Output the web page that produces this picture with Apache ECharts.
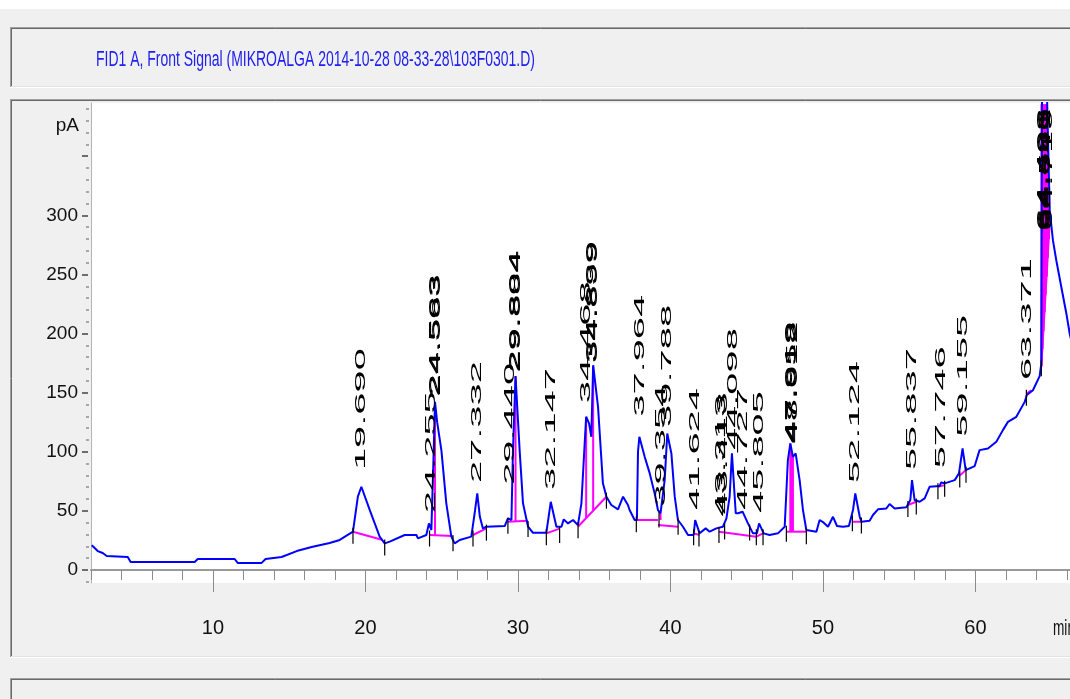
<!DOCTYPE html>
<html>
<head>
<meta charset="utf-8">
<script src="https://cdn.jsdelivr.net/npm/echarts@6/dist/echarts.min.js"></script>
<style>
html,body{margin:0;padding:0;background:#f0f0f0;}
#chart{width:1070px;height:699px;}
</style>
</head>
<body>
<div id="chart"></div>
<script>
// ---------- data ----------
const chartTitle = 'FID1 A, Front Signal (MIKROALGA 2014-10-28 08-33-28\\103F0301.D)';
const yUnit = 'pA';
const xUnit = 'min';

const signalTime = [2.05,2.24,2.44,2.77,3.03,4.41,4.60,8.80,9.00,11.42,11.62,13.19,13.45,14.50,15.49,16.47,17.65,18.31,
  19.18,19.50,19.73,19.85,20.30,20.93,21.26,21.59,22.57,23.34,23.44,23.99,24.16,24.32,24.45,24.56,24.70,24.98,25.30,25.63,25.85,26.18,26.94,
  27.05,27.18,27.33,27.50,27.70,27.93,29.13,29.34,29.44,29.57,29.67,29.84,30.11,30.33,30.66,30.98,31.86,32.15,32.52,32.85,33.00,33.28,33.61,33.93,
  34.16,34.47,34.66,34.81,34.93,35.25,35.57,35.80,36.12,36.56,36.89,37.21,37.32,37.65,37.80,37.87,37.96,38.31,38.64,38.96,39.18,39.35,39.62,39.79,
  40.06,40.28,40.49,40.82,41.15,41.52,41.62,41.91,42.31,42.57,43.01,43.44,43.67,43.88,44.03,44.10,44.28,44.43,44.73,45.08,45.41,45.67,45.81,46.11,
  46.50,47.05,47.49,47.70,47.86,48.03,48.21,48.47,48.69,48.91,49.57,49.78,50.05,50.33,50.66,50.92,51.31,51.70,51.97,52.12,52.41,52.52,53.06,53.28,
  53.61,54.16,54.37,54.70,55.47,55.73,55.84,56.01,56.34,56.67,56.99,57.65,57.75,57.98,58.64,58.92,59.155,59.36,59.95,60.27,60.82,61.37,61.80,62.13,
  62.68,63.23,63.37,63.77,64.21,64.32,64.37,64.64,64.75,64.87,65.08,65.30,65.63,65.96,66.18,66.30];
const signalPA = [21,18.6,16,14.4,11.8,11,6.8,6.8,9.3,9.3,6,6,9.3,11,16,19.4,22.8,25.4,
  32.4,62,70.4,70,50,28.2,22.5,24,29.6,29.6,26.8,29.6,39.4,33.8,90,142.2,125,101,56.4,28.2,22.5,25.4,28.2,
  29.6,50,64.8,45,35.2,36.6,37.2,43.7,45,42.3,100,164,101,56.4,36.6,31.5,31.5,57.7,36.6,36.6,42.8,39.4,42.3,38,
  56.4,129.6,124,112.7,173.2,138,73.3,62,55,51.3,62,55,50.7,42.3,42.3,100,112.7,95.7,81.7,64.8,50.7,48,76,115.5,
  98.6,62,42.3,36.6,29.6,29.6,42.3,31,35.2,32.4,35.2,36.6,43.7,62,98.6,100,48,48,49.3,39.4,31,31,39.4,31,
  29.6,31,36.6,93,107,95.7,98.6,76,50.7,33.8,32.4,42.3,40,36.6,45,37.2,36.6,37.2,50.7,64.8,45,40.8,41.7,46.5,
  51.3,52.1,55.8,52.1,53,59.2,76,59.2,57.7,60.6,70.4,71,74,73.3,76,81.7,102.8,84.5,87.9,101.4,102.8,108.4,118.3,125.3,
  129.6,142.2,148,152,164,174.7,430,430,369,304,279,262,239.4,217,200,193];

// peak retention-time labels and the signal level where each label starts
const peakLabel = ['19.690','24.255','24.563','24.583','27.332','29.440','29.804','29.884','32.147','34.468','34.839','34.899',
  '37.964','39.354','39.788','41.624','43.313','43.413','44.098','44.727','45.805','47.919','47.958','48.012',
  '52.124','55.837','57.746','59.155','63.371','64.408','64.486','64.563','64.641','64.719'];
const peakLabelLevel = [84.5,48,146.5,147,73.5,72,167,167,67.6,141,175,175,
  129.6,53.5,121,50.7,45,47,101.4,50.7,48.2,107,107,107,
  73.5,84.5,86,112.7,160.6,287,287,287,287,287];

// integration baselines: [t1, pA1, t2, pA2]
const baselineSegments = [[19.18,32.4,21.13,25.4],[24.20,29.6,25.72,28.7],[27.05,29.6,27.93,35.2],[29.34,40.8,30.66,41.7],
  [31.86,31,32.73,35],[33.93,36.6,35.80,62],[37.76,42.3,39.18,42.3],[39.18,38,40.49,36.6],[41.52,31,41.91,29.6],
  [43.18,32.4,45.63,28.2],[45.63,28.2,46.07,31],[47.60,32.4,48.91,32.4],[51.93,40.8,52.52,40.8],[55.57,55,56.12,57.7],
  [57.54,70.4,57.98,71.8],[58.97,80,59.38,84.5],[63.34,149,63.66,152],[64.32,172,64.85,290]];
// drop lines: [t, base pA, top pA]
const dropLines = [[24.56,29.2,142],[29.84,41.2,164],[34.47,43.9,129.6],[34.93,50.2,172],[39.35,42.3,48],
  [47.86,32.4,107],[47.92,32.4,100],[47.98,32.4,97],[48.03,32.4,95.7],
  [64.33,172,394],[64.40,187,394],[64.47,202,394],[64.54,218,394],[64.61,233,394],[64.68,248,394],[64.75,264,369],[64.82,280,330]];
// peak start / end marks: [t, pA]
const peakMarks = [[19.18,32.4],[21.26,22.5],[24.20,30],[25.74,26],[27.05,30],[27.93,35],[29.34,40.8],[30.66,38],[31.86,31],[32.73,33],
  [33.94,37],[35.80,62],[37.76,42],[39.25,46],[40.50,40],[41.52,31],[41.87,30],[43.18,33],[43.55,36],[45.19,35],[45.63,31],[46.07,31],
  [47.60,34],[48.91,32],[51.93,43],[52.52,41],[55.57,55],[56.12,57],[57.54,70],[57.98,72],[58.97,80],[59.38,84],[63.34,149],[64.32,174]];

// axis ticks
const yMajorTicks = [0,50,100,150,200,250,300,350];
const yTickLabels = [0,50,100,150,200,250,300];
const yMinorTicks = [-10,10,20,30,40,60,70,80,90,110,120,130,140,160,170,180,190,210,220,230,240,260,270,280,290,310,320,330,340,360,370,380,390];
const xMajorTicks = [10,20,30,40,50,60];
const xMinorTicks = [2,4,6,8,12,14,16,18,22,24,26,28,32,34,36,38,42,44,46,48,52,54,56,58,62,64,66];

// ---------- helpers ----------
function textWidth(txt, font){
  const c = document.createElement('canvas').getContext('2d');
  c.font = font; return c.measureText(txt).width;
}
const labelFont = '15px "Liberation Sans", Arial, sans-serif';
const labelStretch = 122 / textWidth('19.690', labelFont);
const titleFont = '22px "Liberation Sans", Arial, sans-serif';
const titleScale = 439 / textWidth(chartTitle, titleFont);
const axisFontFamily = '"Liberation Sans", Arial, sans-serif';

const signal = signalTime.map((t,i)=>[t, signalPA[i]]);
const labelData = peakLabel.map((s,i)=>[parseFloat(s), peakLabelLevel[i]]);

function hline(x1,x2,y,c){return {type:'line',z:-10,silent:true,shape:{x1:x1,y1:y,x2:x2,y2:y},style:{stroke:c,lineWidth:1}};}
function vline(x,y1,y2,c){return {type:'line',z:-10,silent:true,shape:{x1:x,y1:y1,x2:x,y2:y2},style:{stroke:c,lineWidth:1}};}

const chart = echarts.init(document.getElementById('chart'), null, {renderer:'canvas'});
const option = {
  backgroundColor:'#f0f0f0',
  animation:false,
  graphic:[
    {type:'rect',z:-10,silent:true,shape:{x:0,y:0,width:1070,height:9},style:{fill:'#ffffff'}},
    // title panel
    hline(10,1070,27.5,'#a0a0a0'), hline(11,1070,28.5,'#696969'),
    vline(10.5,27,88,'#a0a0a0'), vline(11.5,28,87,'#696969'),
    hline(10,1070,87.5,'#ffffff'), hline(11,1070,86.5,'#e3e3e3'),
    // plot panel
    hline(10,1070,99.5,'#a0a0a0'), hline(11,1070,100.5,'#696969'),
    vline(10.5,99,658,'#a0a0a0'), vline(11.5,100,657,'#696969'),
    hline(10,1070,657.5,'#ffffff'), hline(11,1070,656.5,'#e3e3e3'),
    // lower panel
    hline(10,1070,678.5,'#a0a0a0'), hline(11,1070,679.5,'#696969'),
    vline(10.5,678,699,'#a0a0a0'), vline(11.5,679,699,'#696969'),
    {type:'text',x:96,y:60,scaleX:titleScale,style:{text:chartTitle,font:titleFont,fill:'#2020ee',align:'left',verticalAlign:'middle'}},
    {type:'text',x:1053,y:629,scaleX:0.62,style:{text:xUnit,font:'22px '+axisFontFamily,fill:'#111',align:'left',verticalAlign:'middle'}}
  ],
  grid:{left:91,right:0,top:103,bottom:116,show:true,backgroundColor:'#ffffff',borderWidth:0},
  xAxis:[
    {type:'value',min:2,max:66.2,position:'bottom',
      axisLine:{show:true,lineStyle:{color:'#9a9a9a',width:2}},
      axisTick:{show:true,customValues:xMinorTicks,length:10,lineStyle:{color:'#8a8a8a',width:1}},
      axisLabel:{show:true,customValues:xMajorTicks,margin:35,fontSize:20,fontFamily:axisFontFamily,color:'#111'},
      splitLine:{show:false}},
    {type:'value',min:2,max:66.2,position:'bottom',
      axisLine:{show:false},
      axisTick:{show:true,customValues:xMajorTicks,length:22,lineStyle:{color:'#8a8a8a',width:1}},
      axisLabel:{show:false},splitLine:{show:false}}
  ],
  yAxis:[
    {type:'value',min:-11,max:395,position:'left',
      name:yUnit,nameLocation:'end',nameGap:-23,
      nameTextStyle:{align:'right',verticalAlign:'middle',padding:[0,12,0,0],fontSize:19,fontFamily:axisFontFamily,color:'#111'},
      axisLine:{show:true,lineStyle:{color:'#b4b4b4',width:1}},
      axisTick:{show:false},
      axisLabel:{show:true,customValues:yTickLabels,margin:13,fontSize:19,fontFamily:axisFontFamily,color:'#111'},
      splitLine:{show:false}},
    {type:'value',min:-11,max:395,position:'left',offset:3,
      axisLine:{show:false},
      axisTick:{show:true,customValues:yMajorTicks,length:6,lineStyle:{color:'#6e6e6e',width:2}},
      axisLabel:{show:false},splitLine:{show:false}},
    {type:'value',min:-11,max:395,position:'left',offset:2,
      axisLine:{show:false},
      axisTick:{show:true,customValues:yMinorTicks,length:3,lineStyle:{color:'#a8a8a8',width:2}},
      axisLabel:{show:false},splitLine:{show:false}}
  ],
  series:[
    {type:'custom',name:'baseline',z:2,silent:true,data:baselineSegments,
      renderItem:function(p,api){
        const a=api.coord([api.value(0),api.value(1)]), b=api.coord([api.value(2),api.value(3)]);
        return {type:'line',shape:{x1:a[0],y1:a[1],x2:b[0],y2:b[1]},style:{stroke:'#ff00ff',lineWidth:2}};
      }},
    {type:'custom',name:'drop',z:2,silent:true,data:dropLines,
      renderItem:function(p,api){
        const a=api.coord([api.value(0),api.value(1)]), b=api.coord([api.value(0),api.value(2)]);
        return {type:'line',shape:{x1:a[0],y1:a[1],x2:b[0],y2:b[1]},style:{stroke:'#ff00ff',lineWidth:2}};
      }},
    {type:'line',name:'FID1 A',z:3,data:signal,showSymbol:false,symbol:'none',clip:true,
      lineStyle:{color:'#0000ff',width:2},silent:true},
    {type:'custom',name:'marks',z:4,silent:true,data:peakMarks,
      renderItem:function(p,api){
        const a=api.coord([api.value(0),api.value(1)]);
        return {type:'line',shape:{x1:a[0],y1:a[1]-4,x2:a[0],y2:a[1]+12},style:{stroke:'#000',lineWidth:1.2}};
      }},
    {type:'custom',name:'labels',z:5,silent:true,data:labelData,
      renderItem:function(p,api){
        const a=api.coord([api.value(0),api.value(1)]);
        return {type:'text',x:a[0],y:a[1],rotation:Math.PI/2,scaleX:labelStretch,
          style:{text:peakLabel[p.dataIndex],font:labelFont,fill:'#000',align:'left',verticalAlign:'middle'}};
      }}
  ]
};
chart.setOption(option);
</script>
</body>
</html>
